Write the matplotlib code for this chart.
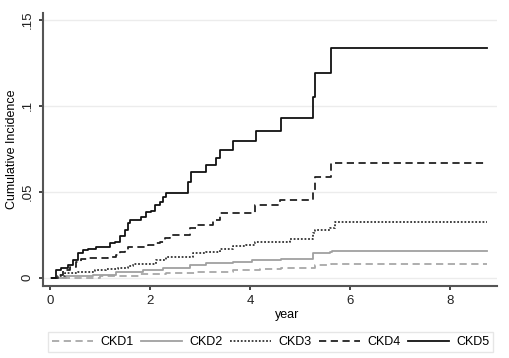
import numpy as np
import matplotlib.pyplot as plt

plt.rcParams['font.family'] = ['Liberation Sans', 'DejaVu Sans']

# step points (time in years, cumulative incidence)
ckd1_t = [0.03, 1.0, 1.8, 2.33, 2.93, 3.67, 4.2, 4.63, 5.3, 5.63, 8.74]
ckd1_y = [0.0, 0.001, 0.002, 0.0025, 0.0035, 0.0045, 0.005, 0.0055, 0.0074, 0.0078, 0.0078]

ckd2_t = [0.03, 0.33, 0.87, 1.33, 1.87, 2.27, 2.8, 3.13, 3.67, 4.05, 4.63, 5.27, 5.6, 5.65, 8.74]
ckd2_y = [0.0, 0.001, 0.0016, 0.0035, 0.0045, 0.0058, 0.0074, 0.0085, 0.0093, 0.0103, 0.0107, 0.0142, 0.0151, 0.0157, 0.0157]

ckd3_t = [0.03, 0.17, 0.3, 0.57, 0.9, 1.13, 1.37, 1.57, 1.67, 2.13, 2.33, 2.87, 3.13, 3.4, 3.67,
          3.93, 4.1, 4.8, 5.27, 5.3, 5.6, 5.7, 8.74]
ckd3_y = [0.0, 0.001, 0.0026, 0.0035, 0.0045, 0.0048, 0.0058, 0.007, 0.008, 0.0103, 0.012, 0.0145,
          0.015, 0.017, 0.0184, 0.019, 0.021, 0.0225, 0.026, 0.0277, 0.0288, 0.0326, 0.0326]

ckd4_t = [0.03, 0.17, 0.27, 0.4, 0.53, 0.63, 0.77, 1.17, 1.33, 1.4, 1.5, 1.57, 1.97, 2.1, 2.2,
          2.3, 2.4, 2.8, 2.93, 3.27, 3.4, 4.1, 4.6, 5.27, 5.3, 5.63, 8.74]
ckd4_y = [0.0, 0.0016, 0.0045, 0.0064, 0.0093, 0.0107, 0.0113, 0.012, 0.0132, 0.0151, 0.016,
          0.0177, 0.019, 0.02, 0.021, 0.0229, 0.0248, 0.0289, 0.0306, 0.0335, 0.0375, 0.042,
          0.045, 0.051, 0.0587, 0.0666, 0.0666]

ckd5_t = [0.05, 0.13, 0.23, 0.37, 0.47, 0.57, 0.67, 0.77, 0.93, 1.2, 1.3, 1.4, 1.5, 1.57, 1.6,
          1.83, 1.93, 2.03, 2.1, 2.2, 2.27, 2.33, 2.77, 2.83, 3.13, 3.33, 3.4, 3.67, 4.12, 4.63,
          5.27, 5.3, 5.63, 8.74]
ckd5_y = [0.0, 0.0045, 0.0055, 0.0074, 0.0103, 0.0142, 0.016, 0.017, 0.018, 0.02, 0.021, 0.024,
          0.0277, 0.0316, 0.0335, 0.0355, 0.0384, 0.039, 0.042, 0.044, 0.047, 0.049, 0.0558,
          0.0616, 0.0655, 0.0694, 0.0743, 0.0797, 0.0853, 0.0927, 0.105, 0.119, 0.1337, 0.1337]

series = [
    ("CKD1", ckd1_t, ckd1_y, "#a8a8a8", (0, (4, 2.5))),
    ("CKD2", ckd2_t, ckd2_y, "#a0a0a0", "-"),
    ("CKD3", ckd3_t, ckd3_y, "#333333", (0, (1, 1))),
    ("CKD4", ckd4_t, ckd4_y, "#222222", (0, (4, 2.5))),
    ("CKD5", ckd5_t, ckd5_y, "#111111", "-"),
]

fig = plt.figure(figsize=(5.1, 3.58), dpi=100)
ax = fig.add_axes([0.0843, 0.2011, 0.89, 0.7626])

for name, t, y, col, ls in series:
    ax.step(t, y, where="post", color=col, linestyle=ls, linewidth=1.3, label=name)

ax.set_xlim(-0.14, 8.94)
ax.set_ylim(-0.0048, 0.1539)
ax.set_xticks([0, 2, 4, 6, 8])
ax.set_yticks([0, 0.05, 0.1, 0.15])
ax.set_yticklabels(["0", ".05", ".1", ".15"], rotation=90, va="center")
ax.yaxis.grid(True, color="#ececec", linewidth=1.0)
ax.set_axisbelow(True)

for s in ["top", "right"]:
    ax.spines[s].set_visible(False)
for s in ["left", "bottom"]:
    ax.spines[s].set_color("#555555")
    ax.spines[s].set_linewidth(1.5)
ax.tick_params(colors="#222222", labelsize=9.5, length=3, width=1.2)

ax.set_xlabel("year", fontsize=9)
ax.xaxis.set_label_coords(0.537, -0.085)
ax.set_ylabel("Cumulative Incidence", fontsize=9, labelpad=3)

leg = fig.legend(loc="lower left", bbox_to_anchor=(0.094, 0.017, 0.873, 0.067), mode="expand",
                 ncol=5, fontsize=9, frameon=True, fancybox=False, handlelength=3.3,
                 borderaxespad=0, handletextpad=0.6, borderpad=0.3)
leg.get_frame().set_edgecolor("#e0e0e0")
leg.get_frame().set_linewidth(1.0)

fig.savefig("out.png", dpi=100)
